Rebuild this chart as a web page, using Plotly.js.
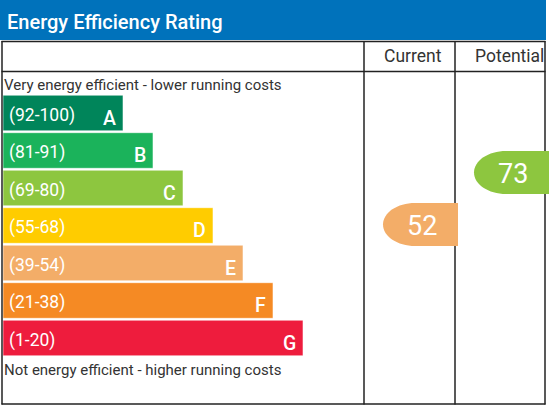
<!DOCTYPE html>
<html>
<head>
<meta charset="utf-8">
<script src="https://cdn.plot.ly/plotly-3.0.1.min.js"></script>
<style>html,body{margin:0;padding:0;background:#fff;}#chart{width:557px;height:406px;}</style>
</head>
<body>
<div id="chart"></div>
<script>
// ---- data ----
const bands = ['A', 'B', 'C', 'D', 'E', 'F', 'G'];
const ranges = ['(92-100)', '(81-91)', '(69-80)', '(55-68)', '(39-54)', '(21-38)', '(1-20)'];
const barLengths = [4, 5, 6, 7, 8, 9, 10];
const bandColors = ['#00855a', '#1bb35b', '#8dc63f', '#ffcc00', '#f3ad68', '#f58a24', '#ee1c3d'];
const columnLabels = ['Current', 'Potential'];
const ratingValues = [52, 73];
const ratingBands = [4, 2];
const titleText = 'Energy Efficiency Rating';
const topNote = 'Very energy efficient - lower running costs';
const bottomNote = 'Not energy efficient - higher running costs';

// ---- layout helpers ----
const W = 557, H = 406;
const px = x => x / W;
const py = y => 1 - y / H;
const FONT = 'Roboto, Arial, sans-serif';
const LINE = '#222';

const rows = bands.map((b, i) => i);

const traces = [{
  type: 'bar',
  orientation: 'h',
  y: rows,
  x: barLengths,
  base: 0,
  width: 0.95,
  marker: {color: bandColors, line: {color: 'rgba(255,255,255,0.55)', width: 1}},
  hoverinfo: 'skip',
  xaxis: 'x',
  yaxis: 'y'
}];

const annotations = [];
rows.forEach(i => {
  annotations.push({
    x: 0, y: i, xref: 'x', yref: 'y', text: ranges[i], showarrow: false,
    xanchor: 'left', yanchor: 'middle', xshift: 4, yshift: -2,
    font: {family: FONT, size: 17.5, color: '#ffffff'}
  });
  annotations.push({
    x: barLengths[i], y: i, xref: 'x', yref: 'y', text: bands[i], showarrow: false,
    xanchor: 'right', yanchor: 'middle', xshift: -5, yshift: -5,
    font: {family: FONT, size: 19.5, color: '#ffffff', weight: 500}
  });
});

annotations.push({
  x: px(2), y: py(85), xref: 'paper', yref: 'paper', text: topNote, showarrow: false,
  xanchor: 'left', yanchor: 'middle', font: {family: FONT, size: 15, color: '#333'}
});
annotations.push({
  x: px(2), y: py(370), xref: 'paper', yref: 'paper', text: bottomNote, showarrow: false,
  xanchor: 'left', yanchor: 'middle', font: {family: FONT, size: 15, color: '#333'}
});

const colCenters = [px(412.5), px(509)];
columnLabels.forEach((c, k) => {
  annotations.push({
    x: colCenters[k], y: py(56), xref: 'paper', yref: 'paper', text: c, showarrow: false,
    xanchor: 'center', yanchor: 'middle', font: {family: FONT, size: 17.5, color: '#333'}
  });
});

// column arrow geometry (paper x)
const arrowLeft = [px(383), px(474)];
const arrowRight = [px(458), px(549)];
const arrowSemi = px(32);
const arrowHalf = 8.7; // in rating-value units on y2

const shapes = [];
// header band
shapes.push({type: 'rect', xref: 'paper', yref: 'paper', x0: 0, x1: px(546), y0: py(0), y1: py(40),
  fillcolor: '#0072bb', line: {width: 0}, layer: 'below'});
// grid lines
const hl = (x0, x1, y) => ({type: 'line', xref: 'paper', yref: 'paper', x0: px(x0), x1: px(x1), y0: py(y), y1: py(y), line: {color: LINE, width: 1.5}});
const vl = (x, y0, y1) => ({type: 'line', xref: 'paper', yref: 'paper', x0: px(x), x1: px(x), y0: py(y0), y1: py(y1), line: {color: LINE, width: 1.5}});
shapes.push(hl(1.5, 545.5, 41.5));
shapes.push(hl(1.5, 545.5, 71.5));
shapes.push(hl(1.5, 545.5, 404));
shapes.push(vl(2, 41, 404.5));
shapes.push(vl(364, 41, 404.5));
shapes.push(vl(455, 41, 404.5));
shapes.push(vl(545, 41, 404.5));

ratingValues.forEach((v, k) => {
  const xl = arrowLeft[k], xr = arrowRight[k], xc = xl + arrowSemi, a = arrowSemi;
  const yt = v + arrowHalf, yb = v - arrowHalf, k5 = 0.5523;
  const path = `M ${xr},${yt} L ${xc},${yt} C ${xc - k5 * a},${yt} ${xl},${v + k5 * arrowHalf} ${xl},${v} ` +
               `C ${xl},${v - k5 * arrowHalf} ${xc - k5 * a},${yb} ${xc},${yb} L ${xr},${yb} Z`;
  shapes.push({type: 'path', xref: 'paper', yref: 'y2', path: path,
    fillcolor: bandColors[ratingBands[k]], line: {width: 0}, layer: 'above'});
  annotations.push({
    x: (xl + xr) / 2 + px(1.5), y: v, xref: 'paper', yref: 'y2', text: String(v), showarrow: false,
    xanchor: 'center', yanchor: 'middle', yshift: -1,
    font: {family: FONT, size: 27, color: '#ffffff'}
  });
});

const layout = {
  width: W, height: H,
  margin: {l: 0, r: 0, t: 0, b: 0, pad: 0},
  paper_bgcolor: '#ffffff', plot_bgcolor: 'rgba(0,0,0,0)',
  showlegend: false,
  title: {text: titleText, x: px(7), xanchor: 'left', xref: 'paper', y: py(22), yref: 'paper', yanchor: 'middle',
    font: {family: FONT, size: 20, color: '#ffffff', weight: 500}},
  xaxis: {range: [-0.1, 18.4667], visible: false, fixedrange: true},
  yaxis: {range: [7.8133, -3.0133], visible: false, fixedrange: true},
  yaxis2: {range: [-21.3, 142.7], overlaying: 'y', visible: false, fixedrange: true},
  bargap: 0,
  shapes: shapes,
  annotations: annotations
};

Plotly.newPlot('chart', traces, layout, {staticPlot: true, displayModeBar: false});
</script>
</body>
</html>
